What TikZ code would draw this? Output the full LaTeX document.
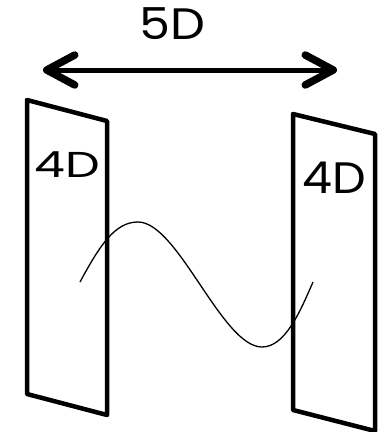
\documentclass[tikz,border=0pt]{standalone}
\usepackage{fontspec}
\setmainfont{Poppins}
\usetikzlibrary{arrows.meta}

\begin{document}
\begin{tikzpicture}[
  x=1pt, y=-1pt,
  plane/.style={draw=black, line width=4.5pt, line join=round},
  label/.style={inner sep=0pt},
  distarrow/.style={{Straight Barb[length=28pt, width=30pt, line width=7.5pt, line cap=round, line join=round]}-{Straight Barb[length=28pt, width=30pt, line width=7.5pt, line cap=round, line join=round]}, line width=5pt, shorten <=3pt, shorten >=3pt},
  wave/.style={draw=black, line width=1.3pt},
]
  \useasboundingbox (0,0) rectangle (383,432);

  % the two 4D planes
  \draw[plane] (27,100) -- (107,121) -- (107,415) -- (27,394) -- cycle;
  \draw[plane] (293,114) -- (375,134) -- (375,431) -- (293,410) -- cycle;

  \node[label, font=\fontsize{36}{36}\selectfont] (leftlabel) at (67,164.5) {\scalebox{1.36}[1]{4D}};
  \node[label, font=\fontsize{44}{44}\selectfont] (rightlabel) at (334,177.5) {\scalebox{1.08}[1]{4D}};

  % extra dimension
  \node[label, font=\fontsize{44}{44}\selectfont] (bulklabel) at (172.5,23.5) {\scalebox{1.12}[1]{5D}};
  \coordinate (leftend) at (40,70);
  \coordinate (rightend) at (340,70);
  \draw[distarrow] (leftend) -- (rightend);

  \draw[wave] (80,282) .. controls (100,245) and (115,222) .. (138,222)
    .. controls (178,222) and (222,347) .. (262,347)
    .. controls (285,347) and (300,312) .. (313,282);
\end{tikzpicture}
\end{document}
